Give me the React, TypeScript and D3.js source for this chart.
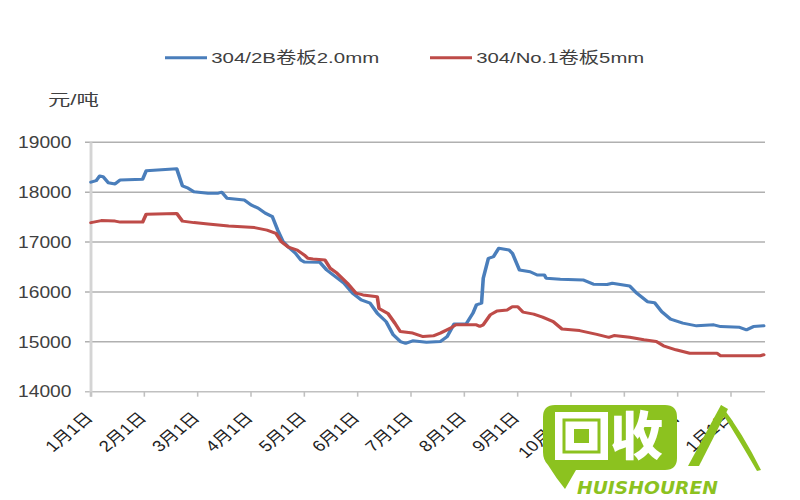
import React from 'react';
import * as d3 from 'd3';

const W = 800;
const H = 500;
const SX = 1.2; // horizontal stretch of the original picture

const seriesNames = ['304/2B卷板2.0mm', '304/No.1卷板5mm'];
const seriesColors = ['#4a7ebb', '#be4b48'];
const yTicks = [14000, 15000, 16000, 17000, 18000, 19000];
const monthStarts = [
  '2013-01-01', '2013-02-01', '2013-03-01', '2013-04-01', '2013-05-01', '2013-06-01', '2013-07-01',
  '2013-08-01', '2013-09-01', '2013-10-01', '2013-11-01', '2013-12-01', '2014-01-01',
];
const monthLabels = ['1月1日', '2月1日', '3月1日', '4月1日', '5月1日', '6月1日', '7月1日', '8月1日', '9月1日', '10月1日', '11月1日', '12月1日', '1月1日'];

const series2B: [string, number][] = [
  ['2013-01-01', 18200], ['2013-01-04', 18230], ['2013-01-06', 18325], ['2013-01-08', 18310],
  ['2013-01-11', 18190], ['2013-01-15', 18165], ['2013-01-18', 18245], ['2013-01-31', 18260],
  ['2013-02-02', 18430], ['2013-02-18', 18470], ['2013-02-21', 18125], ['2013-02-24', 18080],
  ['2013-02-27', 18010], ['2013-03-07', 17980], ['2013-03-13', 17980], ['2013-03-15', 18000],
  ['2013-03-18', 17880], ['2013-03-28', 17845], ['2013-04-01', 17745], ['2013-04-05', 17680],
  ['2013-04-09', 17580], ['2013-04-13', 17510], ['2013-04-16', 17240], ['2013-04-19', 17010],
  ['2013-04-22', 16900], ['2013-04-26', 16775], ['2013-04-29', 16640], ['2013-05-01', 16600],
  ['2013-05-10', 16595], ['2013-05-14', 16440], ['2013-05-24', 16175], ['2013-05-29', 15975],
  ['2013-06-03', 15840], ['2013-06-08', 15775], ['2013-06-12', 15575], ['2013-06-17', 15405],
  ['2013-06-21', 15140], ['2013-06-25', 15005], ['2013-06-28', 14970], ['2013-07-02', 15020],
  ['2013-07-10', 14990], ['2013-07-18', 15005], ['2013-07-22', 15105], ['2013-07-26', 15355],
  ['2013-08-02', 15355], ['2013-08-06', 15575], ['2013-08-08', 15740], ['2013-08-11', 15775],
  ['2013-08-12', 16275], ['2013-08-15', 16675], ['2013-08-18', 16710], ['2013-08-21', 16875],
  ['2013-08-27', 16840], ['2013-08-29', 16770], ['2013-09-02', 16440], ['2013-09-08', 16405],
  ['2013-09-12', 16340], ['2013-09-16', 16340], ['2013-09-17', 16275], ['2013-09-25', 16255],
  ['2013-10-08', 16240], ['2013-10-14', 16155], ['2013-10-22', 16150], ['2013-10-25', 16175],
  ['2013-11-04', 16120], ['2013-11-08', 15975], ['2013-11-14', 15805], ['2013-11-18', 15785],
  ['2013-11-22', 15605], ['2013-11-27', 15455], ['2013-12-04', 15375], ['2013-12-12', 15320],
  ['2013-12-22', 15340], ['2013-12-26', 15305], ['2014-01-06', 15290], ['2014-01-10', 15240],
  ['2014-01-14', 15305], ['2014-01-20', 15320],
];

const seriesNo1: [string, number][] = [
  ['2013-01-01', 17390], ['2013-01-07', 17430], ['2013-01-15', 17420], ['2013-01-18', 17400],
  ['2013-01-31', 17400], ['2013-02-02', 17560], ['2013-02-18', 17575], ['2013-02-21', 17420],
  ['2013-02-27', 17390], ['2013-03-07', 17360], ['2013-03-19', 17320], ['2013-04-03', 17290],
  ['2013-04-10', 17240], ['2013-04-15', 17175], ['2013-04-18', 17010], ['2013-04-22', 16900],
  ['2013-04-27', 16840], ['2013-05-01', 16740], ['2013-05-03', 16675], ['2013-05-06', 16660],
  ['2013-05-13', 16640], ['2013-05-16', 16475], ['2013-05-20', 16375], ['2013-05-26', 16175],
  ['2013-05-31', 15975], ['2013-06-04', 15940], ['2013-06-12', 15905], ['2013-06-13', 15670],
  ['2013-06-18', 15570], ['2013-06-22', 15370], ['2013-06-25', 15205], ['2013-07-02', 15175],
  ['2013-07-08', 15105], ['2013-07-14', 15120], ['2013-07-18', 15175], ['2013-07-24', 15275],
  ['2013-07-27', 15340], ['2013-08-08', 15340], ['2013-08-10', 15310], ['2013-08-12', 15340],
  ['2013-08-16', 15540], ['2013-08-20', 15620], ['2013-08-26', 15640], ['2013-08-29', 15705],
  ['2013-09-01', 15705], ['2013-09-04', 15595], ['2013-09-10', 15555], ['2013-09-15', 15495],
  ['2013-09-21', 15405], ['2013-09-26', 15255], ['2013-10-06', 15225], ['2013-10-16', 15150],
  ['2013-10-23', 15090], ['2013-10-26', 15125], ['2013-11-04', 15090], ['2013-11-12', 15040],
  ['2013-11-19', 15005], ['2013-11-23', 14920], ['2013-11-30', 14840], ['2013-12-08', 14770],
  ['2013-12-24', 14770], ['2013-12-26', 14720], ['2014-01-18', 14720], ['2014-01-20', 14740],
];

const parse = d3.timeParse('%Y-%m-%d');

export default function App() {
  // layout (inner, unstretched coordinates)
  const X0 = 91 / SX;
  const X1 = 765 / SX;
  const step = (731 - 91) / 12 / SX;
  const yTop = 142.3;
  const yBot = 391.7;

  const monthDates = monthStarts.map((s) => parse(s) as Date);
  const domainDates = [...monthDates, d3.timeMonth.offset(monthDates[monthDates.length - 1], 1)];
  const x = d3
    .scaleTime()
    .domain(domainDates)
    .range(domainDates.map((_, i) => X0 + i * step));
  const y = d3.scaleLinear().domain([14000, 19000]).range([yBot, yTop]);

  const line = d3
    .line<[string, number]>()
    .x((d) => x(parse(d[0]) as Date))
    .y((d) => y(d[1]));

  const allSeries = [series2B, seriesNo1];
  const font = '"Liberation Sans", Arial, "Noto Sans CJK SC", sans-serif';
  const textColor = '#404040';
  const green = '#8cc21f';

  return (
    <svg
      width={W}
      height={H}
      viewBox={`0 0 ${W} ${H}`}
      style={{ position: 'absolute', left: 0, top: 0, background: '#fff' }}
    >
      <rect x={0} y={0} width={W} height={H} fill="#fff" />
      <g transform={`scale(${SX},1)`} fontFamily={font}>
        {/* gridlines */}
        {yTicks.map((t) => (
          <line key={'g' + t} x1={X0 - 5} x2={X1} y1={y(t)} y2={y(t)} stroke={t === 14000 ? '#c0c0c0' : '#b0b0b0'} strokeWidth={1.4} />
        ))}
        {/* y axis */}
        <line x1={X0} x2={X0} y1={yTop} y2={yBot + 5} stroke="#d4d4d4" strokeWidth={2.4} />
        {/* x ticks */}
        {monthDates.map((d, i) => (
          <line key={'xt' + i} x1={x(d)} x2={x(d)} y1={yBot} y2={yBot + 5} stroke="#c0c0c0" strokeWidth={1.3} />
        ))}
        {/* y labels */}
        {yTicks.map((t) => (
          <text key={'yl' + t} x={59.5} y={y(t)} dy="0.36em" textAnchor="end" fontSize={16} fill={textColor}>
            {t}
          </text>
        ))}
        {/* y title */}
        <text x={40} y={105} fontSize={15} fill={textColor} textLength={42.5} lengthAdjust="spacingAndGlyphs">
          元/吨
        </text>
        {/* x labels */}
        {monthDates.map((d, i) => (
          <text
            key={'xl' + i}
            transform={`translate(${x(d) + 2.5},${yBot + 27}) rotate(-45)`}
            textAnchor="end"
            fontSize={15.5}
            fill="#222"
          >
            {monthLabels[i]}
          </text>
        ))}
        {/* series */}
        {allSeries.map((s, i) => (
          <path key={'s' + i} d={line(s) || ''} fill="none" stroke={seriesColors[i]} strokeWidth={3} strokeLinejoin="round" strokeLinecap="round" />
        ))}
        {/* legend */}
        {seriesNames.map((n, i) => {
          const lx = i === 0 ? 165 / SX : 430 / SX;
          return (
            <g key={'lg' + i}>
              <line x1={lx} x2={lx + 35} y1={57.7} y2={57.7} stroke={seriesColors[i]} strokeWidth={3} />
              <text x={lx + 38.5} y={63.5} fontSize={15.5} fill={textColor} textLength={140} lengthAdjust="spacingAndGlyphs">
                {n}
              </text>
            </g>
          );
        })}
      </g>
      {/* watermark */}
      <g>
        <path
          d="M555,405 H665 Q677,405 677,417 V458 Q677,470 665,470 H576 L565,489 Q556,478 548,465 Q543,460 543,452 V417 Q543,405 555,405 Z"
          fill={green}
        />
        <rect x={555} y={412} width={53} height={48} fill="#fff" />
        <rect x={564} y={420} width={35} height={32} fill="none" stroke={green} strokeWidth={3} />
        <rect x={574} y={429} width={15} height={14} fill={green} />
        <text x={610} y={455} fontSize={52} fontWeight={900} fill="#fff" fontFamily='"Noto Sans CJK SC", sans-serif' textLength={53} lengthAdjust="spacingAndGlyphs">
          收
        </text>
        <text x={577} y={494} fontSize={18} fontWeight={700} fontStyle="italic" fill={green} fontFamily='"DejaVu Sans", sans-serif' textLength={141} lengthAdjust="spacingAndGlyphs">
          HUISHOUREN
        </text>
        <path d="M688,466 L699,466 L728,409 L721,405 Z" fill={green} />
        <path d="M721,405 Q742,432 761,470 L757,471 Q738,438 722,413 Z" fill={green} />
      </g>
    </svg>
  );
}
